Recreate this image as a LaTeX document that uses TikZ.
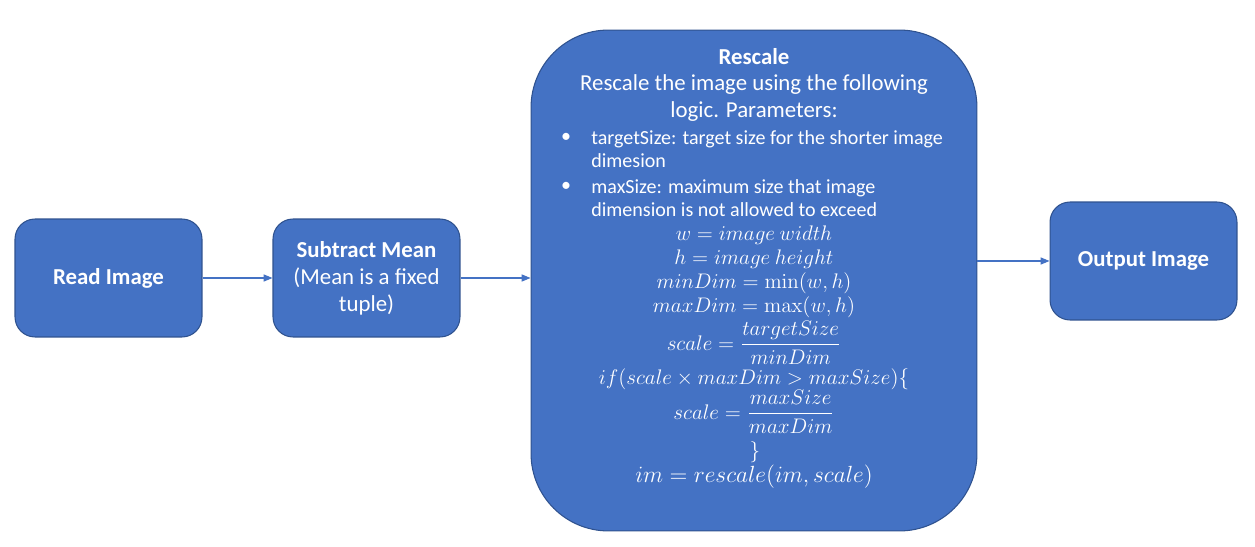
\documentclass[tikz,border=0pt]{standalone}
\usepackage[no-math]{fontspec}
\setmainfont{Carlito}
\usetikzlibrary{positioning, arrows.meta}

\definecolor{boxblue}{HTML}{4472C4}
\definecolor{edgeblue}{HTML}{2F528F}

\begin{document}
\begin{tikzpicture}[
    x=0.02cm, y=-0.02cm,
    % Estilos de nodos
    stepbox/.style={
        rectangle, rounded corners=#1, draw=edgeblue, fill=boxblue,
        line width=0.6pt, text=white, align=center, inner sep=2pt,
        font=\fontsize{13}{15.3}\selectfont
    },
    caption/.style={
        text=white, inner sep=0pt, align=center,
        font=\fontsize{13}{15.3}\selectfont
    },
    bullet/.style={
        text=white, inner sep=0pt, align=left,
        font=\fontsize{11.4}{13}\selectfont
    },
    mathline/.style={
        text=white, inner sep=0pt,
        font=\fontsize{#1}{14}\selectfont
    },
    arrow/.style={
        -{Triangle[length=5pt, width=4pt]}, line width=0.6pt, color=boxblue
    }
]
\useasboundingbox (0,0) rectangle (1255,547);

% ── Cajas del flujo ──
\node[stepbox=0.4cm, minimum width=3.74cm, minimum height=2.36cm]
    (read) at (108.5,278) {\textbf{Read Image}};
\node[stepbox=0.4cm, minimum width=3.74cm, minimum height=2.36cm]
    (sub) at (366.5,278) {\textbf{Subtract Mean}\\(Mean is a fixed\\tuple)};
\node[stepbox=1.55cm, minimum width=8.92cm, minimum height=10.02cm]
    (rescale) at (754,280.5) {};
\node[stepbox=0.4cm, minimum width=3.74cm, minimum height=2.36cm]
    (out) at (1143.5,261) {\textbf{Output Image}};

% ── Texto de Rescale ──
\node[caption] (title) at (754,57)  {\textbf{Rescale}};
\node[caption] (desc1) at (754,85)  {Rescale the image using the following};
\node[caption] (desc2) at (754,112) {logic. Parameters:};

\node[bullet] (dot1) at (566,138) {•};
\node[bullet, anchor=west] (par1) at (591,149.5)
    {targetSize: target size for the shorter image\\dimesion};
\node[bullet] (dot2) at (566,187) {•};
\node[bullet, anchor=west] (par2) at (591,198.5)
    {maxSize: maximum size that image\\dimension is not allowed to exceed};

% ── Logica (formulas) ──
\node[mathline=12] (eqw)    at (754,235) {$w = image\ width$};
\node[mathline=12] (eqh)    at (754,259) {$h = image\ height$};
\node[mathline=12] (eqmin)  at (754,283) {$minDim = \min(w,h)$};
\node[mathline=12] (eqmax)  at (754,307) {$maxDim = \max(w,h)$};
\node[mathline=12] (eqsc1)  at (754,343) {$\displaystyle scale = \frac{targetSize}{minDim}$};
\node[mathline=12] (eqif)   at (754,379) {$if(scale \times maxDim > maxSize)\{$};
\node[mathline=12] (eqsc2)  at (754,412) {$\displaystyle scale = \frac{maxSize}{maxDim}$};
\node[mathline=12] (eqend)  at (755,452) {$\}$};
\node[mathline=13] (eqim)   at (754,477) {\scalebox{1.11}{$im = rescale(im, scale)$}};

% ── Flechas ──
\draw[arrow] (read.east) -- (sub.west);
\draw[arrow] (sub.east) -- (sub.east -| rescale.west);
\draw[arrow] (rescale.east |- out.west) -- (out.west);

\end{tikzpicture}
\end{document}
